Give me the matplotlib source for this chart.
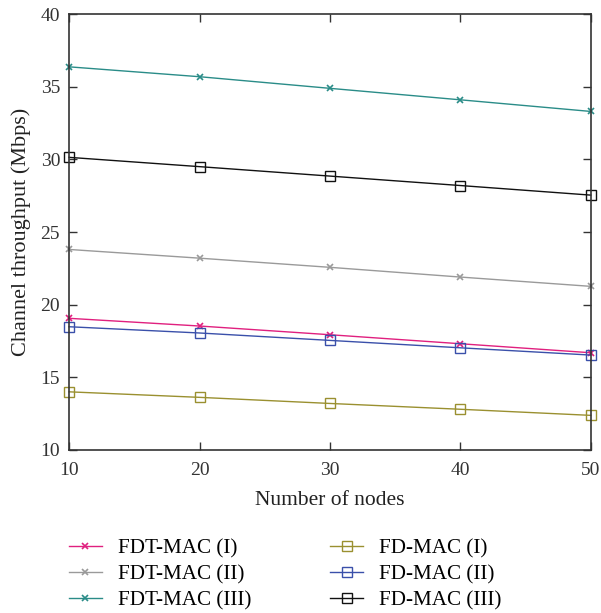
import matplotlib
matplotlib.use("Agg")
import matplotlib.pyplot as plt

plt.rcParams['font.family'] = ['Liberation Serif', 'DejaVu Serif']

# Data
nodes = [10, 20, 30, 40, 50]
fdt_mac_1 = [19.06, 18.53, 17.93, 17.31, 16.69]
fdt_mac_2 = [23.80, 23.20, 22.57, 21.90, 21.26]
fdt_mac_3 = [36.37, 35.69, 34.89, 34.10, 33.30]
fd_mac_1 = [14.00, 13.62, 13.20, 12.80, 12.38]
fd_mac_2 = [18.48, 18.05, 17.54, 17.03, 16.53]
fd_mac_3 = [30.14, 29.50, 28.85, 28.20, 27.54]

labels = ['FDT-MAC (I)', 'FDT-MAC (II)', 'FDT-MAC (III)',
          'FD-MAC (I)', 'FD-MAC (II)', 'FD-MAC (III)']
series = [fdt_mac_1, fdt_mac_2, fdt_mac_3, fd_mac_1, fd_mac_2, fd_mac_3]
colors = ['#e0207f', '#9a9a9a', '#2a8c88', '#9a9030', '#3a50aa', '#111111']
markers = ['x', 'x', 'x', 's', 's', 's']

fig = plt.figure(figsize=(6.01, 6.13), dpi=100)
ax = fig.add_axes([0.115, 0.266, 0.868, 0.711])

for vals, lab, col, mk in zip(series, labels, colors, markers):
    if mk == 's':
        ax.plot(nodes, vals, color=col, marker=mk, markersize=7, markerfacecolor='none',
                markeredgecolor=col, markeredgewidth=1.0, linewidth=1.0, label=lab, clip_on=False)
    else:
        ax.plot(nodes, vals, color=col, marker=mk, markersize=5, markeredgewidth=1.2,
                linewidth=1.0, label=lab, clip_on=False)

ax.set_xlim(10, 50)
ax.set_ylim(10, 40)
ax.set_xticks(nodes)
ax.set_yticks([10, 15, 20, 25, 30, 35, 40])
ax.tick_params(direction='in', top=True, right=True, length=6, width=1.0,
               labelsize=14, colors='#333333')
ax.tick_params(axis='x', pad=8.5)
ax.tick_params(axis='y', pad=6.5)
for sp in ax.spines.values():
    sp.set_linewidth(1.2)
    sp.set_color('#333333')
ax.set_xlabel('Number of nodes', fontsize=15.5, color='#222222', labelpad=9)
ax.set_ylabel('Channel throughput (Mbps)', fontsize=16, color='#222222', labelpad=7)

handles, labs = ax.get_legend_handles_labels()
fig.legend(handles, labs, loc='upper left', bbox_to_anchor=(0.10, 0.135), ncol=2,
           frameon=False, fontsize=15.2, handlelength=1.6, columnspacing=3.7,
           labelspacing=0.29, handletextpad=0.75, borderaxespad=0.0)

fig.savefig('out.png', dpi=100)
